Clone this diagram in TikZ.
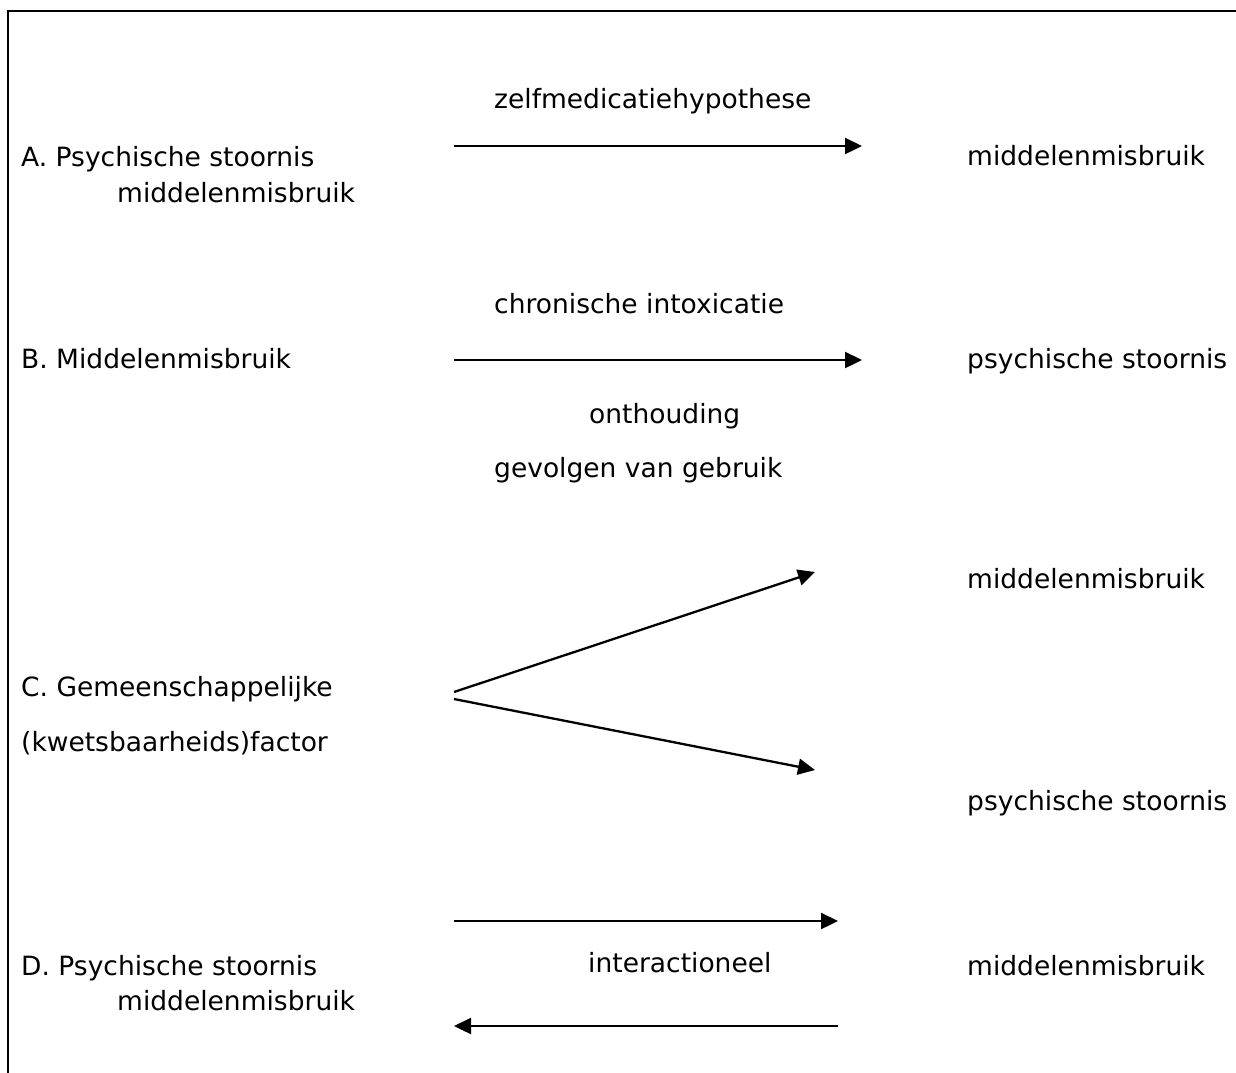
\documentclass[tikz,border=0pt]{standalone}
\usepackage{fontspec}
\setmainfont{DejaVu Sans}
\usetikzlibrary{arrows.meta}
\begin{document}
\begin{tikzpicture}[x=1pt,y=-1pt,
  lbl/.style={anchor=base west,inner sep=0pt,font=\fontsize{26.5}{32}\selectfont},
  conn/.style={line width=2.3pt,-{Triangle[length=17pt,width=16pt]}},
  frame/.style={line width=2.8pt}]
\useasboundingbox (0,0) rectangle (1236,1072);
\clip (0,0) rectangle (1236,1072);
\draw[frame] (8,1090) -- (8,11) -- (1250,11);
% row A
\node[lbl] (za) at (494,108) {zelfmedicatiehypothese};
\node[lbl] (a1) at (21,166) {A. Psychische stoornis};
\node[lbl] (a2) at (117,202) {middelenmisbruik};
\node[lbl] (ar) at (967,165) {middelenmisbruik};
\coordinate (aS) at (454,146);
\coordinate (aE) at (862,146);
\draw[conn] (aS) -- (aE);
% row B
\node[lbl] (bt) at (494,313) {chronische intoxicatie};
\node[lbl] (b1) at (21,368) {B. Middelenmisbruik};
\node[lbl] (br) at (967,368) {psychische stoornis};
\node[lbl] (bo) at (589,423) {onthouding};
\node[lbl] (bg) at (494,477) {gevolgen van gebruik};
\coordinate (bS) at (454,360);
\coordinate (bE) at (862,360);
\draw[conn] (bS) -- (bE);
% row C
\node[lbl] (c1) at (21,696) {C. Gemeenschappelijke};
\node[lbl] (c2) at (21,751) {(kwetsbaarheids)factor};
\node[lbl] (cr1) at (967,588) {middelenmisbruik};
\node[lbl] (cr2) at (967,810) {psychische stoornis};
\coordinate (cS1) at (454,692);
\coordinate (cE1) at (815,572);
\coordinate (cS2) at (454,699);
\coordinate (cE2) at (815,770);
\draw[conn] (cS1) -- (cE1);
\draw[conn] (cS2) -- (cE2);
% row D
\node[lbl] (d1) at (21,975) {D. Psychische stoornis};
\node[lbl] (d2) at (117,1010) {middelenmisbruik};
\node[lbl] (di) at (588,972) {interactioneel};
\node[lbl] (dr) at (967,975) {middelenmisbruik};
\coordinate (dS1) at (454,921);
\coordinate (dE1) at (838,921);
\coordinate (dS2) at (838,1026);
\coordinate (dE2) at (454,1026);
\draw[conn] (dS1) -- (dE1);
\draw[conn] (dS2) -- (dE2);
\end{tikzpicture}
\end{document}
